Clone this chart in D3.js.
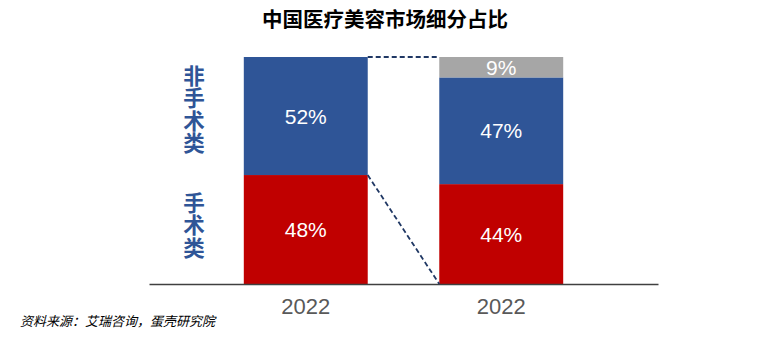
<!DOCTYPE html>
<html><head><meta charset="utf-8">
<script src="https://cdn.jsdelivr.net/npm/d3@7"></script>
<style>body{margin:0;background:#fff}svg{display:block}</style>
</head><body>
<svg id="c" width="764" height="344"></svg>
<script>
const title = "中国医疗美容市场细分占比";
const categories = ["2022a", "2022b"];
const tickLabels = ["2022", "2022"];
const seriesNames = ["手术类", "非手术类", "其他"];
const surgical = [48, 44];
const nonSurgical = [52, 47];
const other = [0, 9];
const sideLabels = ["非手术类", "手术类"];
const source = "资料来源：艾瑞咨询，蛋壳研究院";
const colors = ["#C00000", "#2F5597", "#A6A6A6"];

const svg = d3.select("#c");
const x = d3.scaleBand().domain(categories).range([149, 658]).paddingInner(0.366).paddingOuter(0.485);
const y = d3.scaleLinear().domain([0, 100]).range([284, 57]);

const rows = categories.map((c, i) => ({cat: c, v0: surgical[i], v1: nonSurgical[i], v2: other[i]}));
const stack = d3.stack().keys(["v0", "v1", "v2"])(rows);

stack.forEach((layer, li) => {
  const g = svg.append("g");
  layer.forEach(d => {
    const v = d[1] - d[0];
    if (v <= 0) return;
    g.append("rect")
      .attr("x", x(d.data.cat)).attr("width", x.bandwidth())
      .attr("y", y(d[1])).attr("height", y(d[0]) - y(d[1]))
      .attr("fill", colors[li]);
    g.append("text")
      .attr("x", x(d.data.cat) + x.bandwidth() / 2)
      .attr("y", (y(d[0]) + y(d[1])) / 2)
      .attr("dy", "0.36em")
      .attr("text-anchor", "middle")
      .attr("fill", "#fff")
      .attr("font-family", "Liberation Sans, Arial, sans-serif")
      .attr("font-size", 21)
      .text(v + "%");
  });
});

// axis
const axis = d3.axisBottom(x).tickSize(0).tickPadding(14).tickFormat((d, i) => tickLabels[i]);
const ax = svg.append("g").attr("transform", "translate(0,284)").call(axis);
ax.select(".domain").attr("stroke", "#404040").attr("stroke-width", 1.5);
ax.selectAll("text").attr("font-family", "Liberation Sans, Arial, sans-serif").attr("font-size", 22).attr("fill", "#595959");

// dashed connectors
const x0r = x(categories[0]) + x.bandwidth();
const x1l = x(categories[1]);
const conn = svg.append("g").attr("stroke", "#203864").attr("stroke-width", 1.8).attr("stroke-dasharray", "5,3").attr("fill", "none");
conn.append("line").attr("x1", x0r).attr("y1", y(100)).attr("x2", x1l).attr("y2", y(100));
conn.append("line").attr("x1", x0r).attr("y1", y(surgical[0])).attr("x2", x1l).attr("y2", y(0));

// title
svg.append("text").attr("x", 385).attr("y", 27).attr("text-anchor", "middle")
  .attr("font-family", "Noto Sans CJK SC").attr("font-weight", "bold").attr("font-size", 20.5)
  .attr("fill", "#000").text(title);

// side vertical labels (single vertical text each)
const sideTop = [65, 192];
sideLabels.forEach((s, i) => {
  svg.append("text")
    .attr("x", 194).attr("y", sideTop[i])
    .attr("writing-mode", "vertical-rl")
    .attr("text-anchor", "start")
    .attr("letter-spacing", 1)
    .attr("font-family", "Noto Sans CJK SC").attr("font-weight", "bold").attr("font-size", 21.5)
    .attr("fill", "#2F5597").text(s);
});

// source
svg.append("text").attr("x", 20).attr("y", 326)
  .attr("font-family", "Noto Sans CJK SC").attr("font-style", "italic").attr("font-size", 13)
  .attr("fill", "#000").text(source);
</script>
</body></html>
